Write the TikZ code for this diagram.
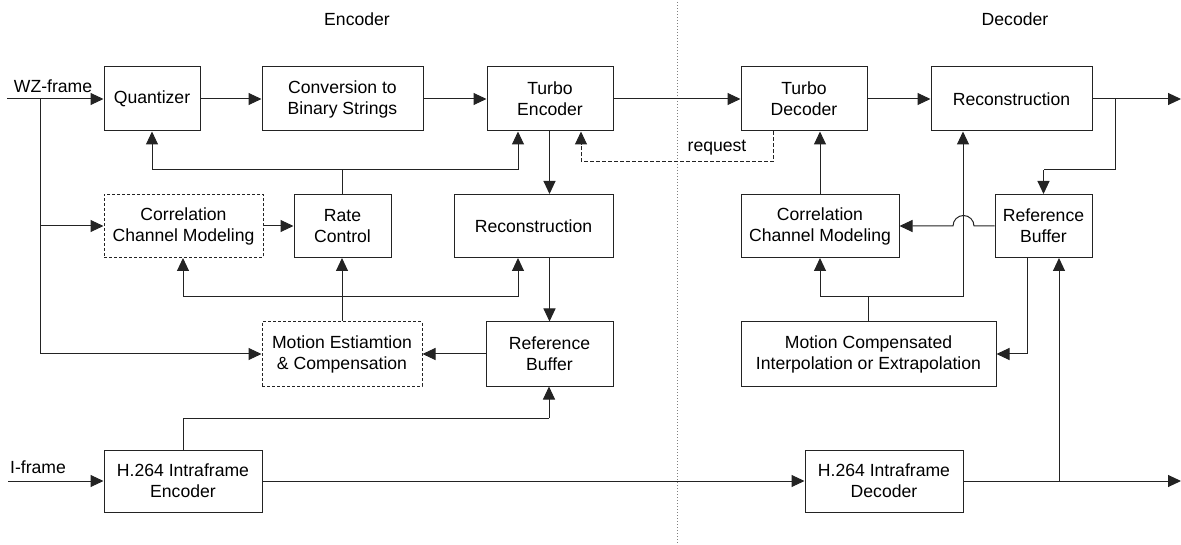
\documentclass[tikz,border=0pt]{standalone}
\usepackage{fontspec}
\setmainfont{Liberation Sans}
\usetikzlibrary{arrows.meta}
\definecolor{ln}{RGB}{35,35,35}
\tikzset{
  blk/.style={draw=ln, line width=1pt, inner sep=0pt, align=center, font=\fontsize{17.6}{21}\selectfont},
  dblk/.style={blk, dashed, dash pattern=on 3pt off 2pt},
  arr/.style={draw=ln, line width=1pt, -{Triangle[length=13pt,width=12pt]}},
  ln/.style={draw=ln, line width=1pt},
  lbl/.style={font=\fontsize{17.6}{21}\selectfont, inner sep=0pt}
}
\begin{document}
\begin{tikzpicture}[x=1pt,y=-1pt]
\useasboundingbox (0,0) rectangle (1181,545);
% divider
\draw[gray, line width=1pt, dotted] (677,2) -- (677,545);
\node[lbl] (tE) at (357,19) {Encoder};
\node[lbl] (tD) at (1015,19) {Decoder};

% encoder boxes
\node[blk, minimum width=96pt, minimum height=64pt] (quant) at (152,99) {Quantizer};
\node[blk, minimum width=161pt, minimum height=64pt] (conv) at (342.5,99) {Conversion to\\Binary Strings};
\node[blk, minimum width=126pt, minimum height=64pt] (tenc) at (550,99) {Turbo\\Encoder};
\node[dblk, minimum width=159pt, minimum height=63pt] (ccme) at (183.5,226) {Correlation\\Channel Modeling};
\node[blk, minimum width=97pt, minimum height=63pt] (rate) at (342.5,226) {Rate\\Control};
\node[blk, minimum width=159pt, minimum height=63pt] (rece) at (533.5,226) {Reconstruction};
\node[dblk, minimum width=160pt, minimum height=64pt] (me) at (342,354) {Motion Estiamtion\\\& Compensation};
\node[blk, minimum width=127pt, minimum height=64pt] (refe) at (549.5,354) {Reference\\Buffer};
\node[blk, minimum width=158pt, minimum height=62pt] (h264e) at (183,481) {H.264 Intraframe\\Encoder};

% decoder boxes
\node[blk, minimum width=126pt, minimum height=64pt] (tdec) at (804,99) {Turbo\\Decoder};
\node[blk, minimum width=161pt, minimum height=64pt] (recd) at (1011.5,99) {Reconstruction};
\node[blk, minimum width=158pt, minimum height=63pt] (ccmd) at (820,226) {Correlation\\Channel Modeling};
\node[blk, minimum width=97pt, minimum height=63pt] (refd) at (1043.5,226) {Reference\\Buffer};
\node[blk, minimum width=255pt, minimum height=64pt] (mci) at (868.5,354) {Motion Compensated\\Interpolation or Extrapolation};
\node[blk, minimum width=158pt, minimum height=62pt] (h264d) at (884,481) {H.264 Intraframe\\Decoder};

% coordinates
\coordinate (wzin) at (7,99);
\coordinate (wzb) at (40,99);
\coordinate (iin) at (8,481);
\coordinate (out1) at (1181,99);
\coordinate (out2) at (1181,481);
\coordinate (ra) at (152,170);
\coordinate (rb) at (518,170);
\coordinate (rc) at (342.5,170);
\coordinate (ma) at (183,297);
\coordinate (mb) at (518,297);
\coordinate (mc) at (342,297);
\coordinate (ha) at (183,418);
\coordinate (hb) at (549,418);
\coordinate (qa) at (581,162);
\coordinate (qb) at (773,162);
\coordinate (oa) at (1115,99);
\coordinate (ob) at (1115,170);
\coordinate (oc) at (1043.5,170);
\coordinate (da) at (820,297);
\coordinate (db) at (963,297);
\coordinate (dc) at (868,297);
\coordinate (ia) at (1059,481);
\coordinate (fa) at (1027,354);

% labels
\node[lbl] (wzl) at (53,86) {WZ-frame};
\node[lbl] (ifl) at (38,467) {I-frame};
\node[lbl] (req) at (717,148) {request};

% encoder connections
\draw[arr] (wzin) -- (quant.west);
\draw[ln] (wzb) -- (40,354);
\draw[arr] (40,354) -- (me.west);
\draw[arr] (40,226) -- (ccme.west);
\draw[arr] (quant) -- (conv);
\draw[arr] (conv) -- (tenc);
\draw[arr] (tenc) -- (tdec);
\draw[ln] (ra) -- (rb);
\draw[arr] (ra) -- (quant.south);
\draw[arr] (rb) -- (rb |- tenc.south);
\draw[ln] (rate.north) -- (rc);
\draw[arr] (tenc.south -| refe.north) -- (rece.north -| refe.north);
\draw[arr] (rece.south -| refe.north) -- (refe.north);
\draw[arr] (ccme) -- (rate);
\draw[ln] (ma) -- (mb);
\draw[arr] (me.north) -- (rate.south -| me.north);
\draw[arr] (ma) -- (ccme.south -| ma);
\draw[arr] (mb) -- (rece.south -| mb);
\draw[arr] (refe) -- (me);
\draw[ln] (h264e.north) -- (ha) -- (hb);
\draw[arr] (hb) -- (refe.south -| hb);
\draw[arr] (iin) -- (h264e.west);
\draw[arr] (h264e) -- (h264d);
\draw[arr, dashed, dash pattern=on 4pt off 2pt] (tdec.south -| qb) -- (qb) -- (qa) -- (tenc.south -| qa);

% decoder connections
\draw[arr] (tdec) -- (recd);
\draw[arr] (recd.east) -- (out1);
\draw[ln] (oa) -- (ob) -- (oc);
\draw[arr] (oc) -- (refd.north);
\draw[arr] (ccmd.north) -- (tdec.south -| ccmd.north);
\draw[arr] (refd.west) -- (974,226) arc[start angle=0, end angle=-180, radius=10.5] -- (ccmd.east);
\draw[ln] (mci.north -| dc) -- (dc);
\draw[ln] (da) -- (db);
\draw[arr] (da) -- (ccmd.south -| da);
\draw[arr] (db) -- (recd.south -| db);
\draw[ln] (refd.south -| fa) -- (fa);
\draw[arr] (fa) -- (mci.east);
\draw[arr] (h264d.east) -- (out2);
\draw[arr] (ia) -- (refd.south -| ia);
\end{tikzpicture}
\end{document}
